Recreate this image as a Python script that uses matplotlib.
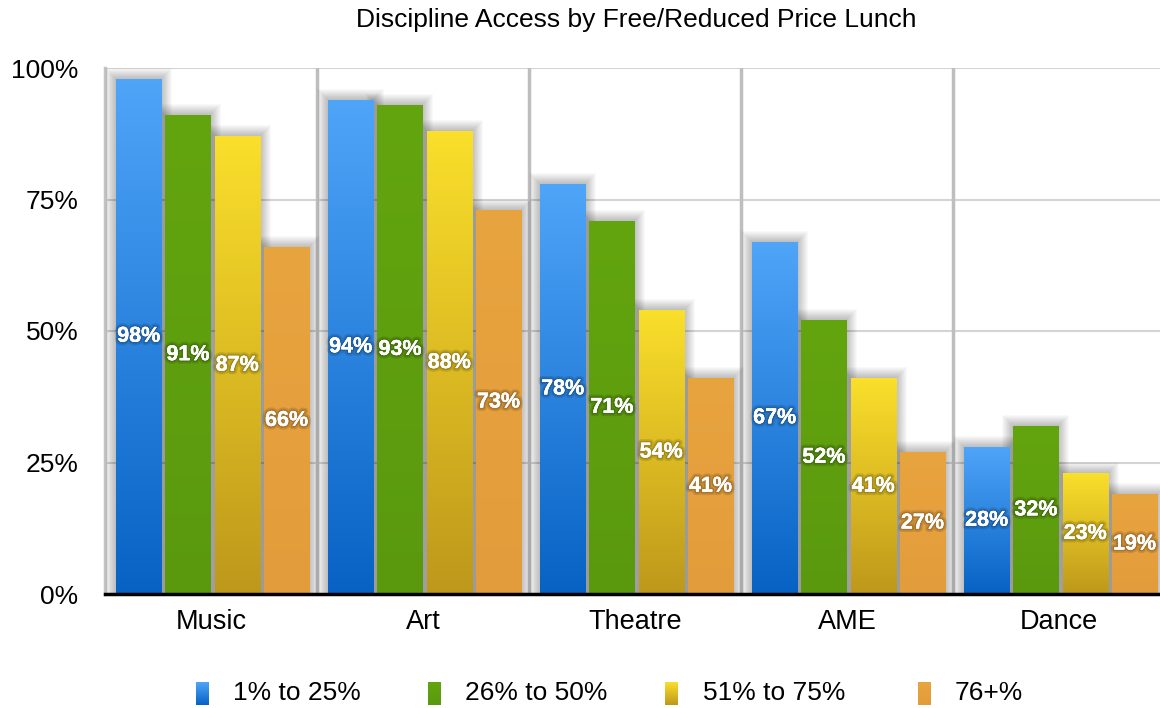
import numpy as np
import matplotlib
matplotlib.use("Agg")
import matplotlib.pyplot as plt
import matplotlib.patheffects as pe
from matplotlib.colors import LinearSegmentedColormap
from matplotlib.patches import Rectangle

categories = ["Music", "Art", "Theatre", "AME", "Dance"]
series_names = ["1% to 25%", "26% to 50%", "51% to 75%", "76+%"]
low_frl = [98, 94, 78, 67, 28]
mid_low_frl = [91, 93, 71, 52, 32]
mid_high_frl = [87, 88, 54, 41, 23]
high_frl = [66, 73, 41, 27, 19]
series_values = [low_frl, mid_low_frl, mid_high_frl, high_frl]
y_ticks = [0, 25, 50, 75, 100]

# bottom -> top gradient colours per series
grad_colors = [("#0762C4", "#4FA5F8"),
               ("#5A990E", "#63A50F"),
               ("#BE981B", "#FADF2B"),
               ("#E39C3B", "#E8A43F")]

plt.rcParams["font.family"] = ["Liberation Sans", "DejaVu Sans"]

W, H = 1160, 708
fig = plt.figure(figsize=(W / 100, H / 100), dpi=100)
ax = fig.add_axes([105 / W, 1 - 594 / H, 1060 / W, 526 / H])
ax.set_xlim(0, 5)
ax.set_ylim(0, 100)

px_x = 5 / 1060
px_y = 100 / 526

bar_w = 0.213
step = 0.2325
offset = 0.052 + bar_w / 2

grad = np.linspace(0, 1, 256).reshape(-1, 1)

for j, vals in enumerate(series_values):
    xs = np.arange(len(categories)) + offset + j * step
    bars = ax.bar(xs, vals, bar_w, facecolor="none", edgecolor="none", zorder=4)
    cmap = LinearSegmentedColormap.from_list("g%d" % j, grad_colors[j])
    for b, v in zip(bars, vals):
        x0, y0 = b.get_x(), b.get_y()
        w, h = b.get_width(), b.get_height()
        # soft shadow
        for k in range(1, 12):
            ax.add_patch(Rectangle((x0 - k * px_x, y0), w + 2 * k * px_x, h + k * px_y,
                                   facecolor="black", edgecolor="none", alpha=0.024, zorder=3))
        im = ax.imshow(grad, cmap=cmap, aspect="auto", origin="lower",
                       extent=(x0, x0 + w, y0, y0 + h), zorder=4)
        im.set_clip_path(b)
        ax.text(x0 + w / 2, v / 2, "%d%%" % v, ha="center", va="center",
                color="white", fontsize=15.5, fontweight="bold",
                zorder=6,
                path_effects=[pe.withStroke(linewidth=5, foreground=(0, 0, 0, 0.12)),
                              pe.withStroke(linewidth=2.5, foreground=(0, 0, 0, 0.15)),
                              pe.Normal()])

for y in y_ticks[1:]:
    ax.axhline(y, color="#D4D4D4", lw=1.5, zorder=1)
for x in range(1, len(categories)):
    ax.axvline(x, color="#BEBEBE", lw=2.5, zorder=2)

for s in ["top", "right"]:
    ax.spines[s].set_visible(False)
ax.spines["left"].set_color("#C4C4C4")
ax.spines["left"].set_linewidth(2.5)
ax.spines["bottom"].set_color("black")
ax.spines["bottom"].set_linewidth(2.5)
ax.spines["bottom"].set_zorder(7)

ax.set_yticks(y_ticks)
ax.set_yticklabels(["%d%%" % t for t in y_ticks], fontsize=19)
ax.set_xticks(np.arange(len(categories)) + 0.5)
ax.set_xticklabels(categories, fontsize=19.5)
ax.tick_params(axis="y", length=0, pad=19)
ax.tick_params(axis="x", length=0, pad=11)

fig.text(636 / W, 1 - 20 / H, "Discipline Access by Free/Reduced Price Lunch",
         ha="center", va="center", fontsize=19)

# legend
swatch_x = [196, 428, 665, 918]
text_x = [233, 465, 703, 955]
for j, name in enumerate(series_names):
    sax = fig.add_axes([swatch_x[j] / W, 1 - 705 / H, 13 / W, 23 / H])
    cmap = LinearSegmentedColormap.from_list("l%d" % j, grad_colors[j])
    sax.imshow(grad, cmap=cmap, aspect="auto", origin="lower")
    sax.axis("off")
    fig.text(text_x[j] / W, 1 - 693 / H, name, ha="left", va="center", fontsize=19)

fig.savefig("out.png", dpi=100)
